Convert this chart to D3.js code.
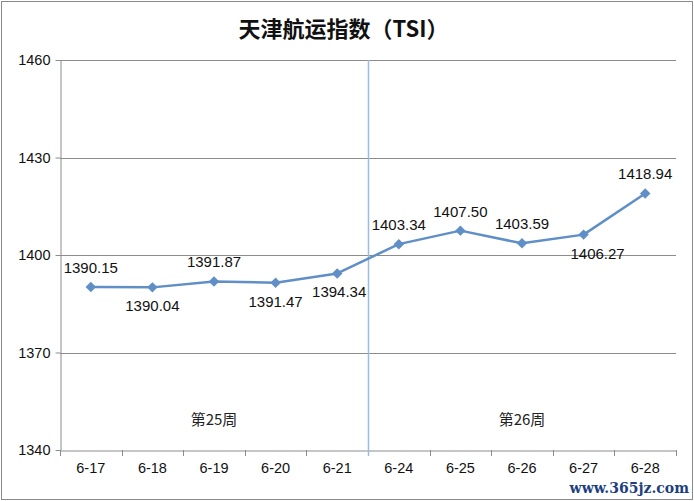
<!DOCTYPE html>
<html>
<head>
<meta charset="utf-8">
<script src="https://cdn.jsdelivr.net/npm/d3@7"></script>
<style>
html,body{margin:0;padding:0;background:#fff;}
svg{display:block;}
</style>
</head>
<body>
<svg id="chart" width="694" height="501"></svg>
<script>
const categories = ["6-17","6-18","6-19","6-20","6-21","6-24","6-25","6-26","6-27","6-28"];
const values = [1390.15,1390.04,1391.87,1391.47,1394.34,1403.34,1407.50,1403.59,1406.27,1418.94];
const labelSide = ["above","below","above","below","below","above","above","above","below","above"];
const yTicks = [1340,1370,1400,1430,1460];
const weekLabels = [{text:"第25周", from:0, to:4},{text:"第26周", from:5, to:9}];
const title = "天津航运指数（TSI）";

const svg = d3.select("#chart");
const W = 694, H = 501;
const m = {left:60, right:18, top:60, bottom:51};
const x = d3.scaleBand().domain(categories).range([m.left, W - m.right]);
const y = d3.scaleLinear().domain([1340,1460]).range([H - m.bottom, m.top]);

// outer border
svg.append("rect").attr("x",1.5).attr("y",1.5).attr("width",W-3).attr("height",H-3)
  .attr("fill","#fff").attr("stroke","#8a8a8a").attr("stroke-width",1);

// title
svg.append("text").attr("x",343.5).attr("y",37).attr("text-anchor","middle")
  .attr("font-family","'Noto Sans CJK SC', sans-serif").attr("font-size",22)
  .attr("font-weight","bold").attr("fill","#111").text(title);

// gridlines
svg.append("g").selectAll("line").data(yTicks.slice(1)).join("line")
  .attr("x1",m.left).attr("x2",W-m.right)
  .attr("y1",d=>Math.round(y(d))+0.5).attr("y2",d=>Math.round(y(d))+0.5)
  .attr("stroke","#8c8c8c").attr("stroke-width",1);

// y axis
const yAxis = svg.append("g").attr("transform",`translate(${m.left+0.5},0)`)
  .call(d3.axisLeft(y).tickValues(yTicks).tickFormat(d3.format("d")).tickSize(5).tickSizeOuter(0).tickPadding(5));
yAxis.select(".domain").attr("stroke","#8c8c8c");
yAxis.selectAll(".tick line").attr("stroke","#8c8c8c");
yAxis.selectAll(".tick text").attr("font-family","'Liberation Sans', Arial, sans-serif")
  .attr("font-size",14.5).attr("fill","#111");

// x axis
const xAxis = svg.append("g").attr("transform",`translate(0,${Math.round(H-m.bottom)+0.5})`)
  .call(d3.axisBottom(x).tickSize(0).tickPadding(12));
xAxis.select(".domain").attr("stroke","#8c8c8c");
xAxis.selectAll(".tick text").attr("font-family","'Liberation Sans', Arial, sans-serif")
  .attr("font-size",14.5).attr("fill","#111");
// tick marks at band boundaries
const bounds = categories.map(c=>x(c)).concat([x(categories[categories.length-1])+x.bandwidth()]);
svg.append("g").selectAll("line").data(bounds).join("line")
  .attr("x1",d=>Math.round(d)+0.5).attr("x2",d=>Math.round(d)+0.5)
  .attr("y1",Math.round(H-m.bottom)).attr("y2",Math.round(H-m.bottom)+6)
  .attr("stroke","#8c8c8c");

// week divider
const divX = Math.round(x(categories[5])) + 0.5;
svg.append("line").attr("x1",divX).attr("x2",divX).attr("y1",m.top).attr("y2",H-m.bottom+6)
  .attr("stroke","#9dbcdb").attr("stroke-width",1.5);

// week labels
svg.append("g").selectAll("text").data(weekLabels).join("text")
  .attr("x",d=>(x(categories[d.from]) + x(categories[d.to]) + x.bandwidth())/2)
  .attr("y",425).attr("text-anchor","middle")
  .attr("font-family","'Noto Sans CJK SC', sans-serif").attr("font-size",15)
  .attr("fill","#222").text(d=>d.text);

// line
const cx = d=>x(d)+x.bandwidth()/2;
svg.append("path").datum(values)
  .attr("d", d3.line().x((d,i)=>cx(categories[i])).y(d=>y(d)))
  .attr("fill","none").attr("stroke","#5f8fc6").attr("stroke-width",2.5).attr("stroke-linejoin","round");

// markers
svg.append("g").selectAll("path").data(values).join("path")
  .attr("transform",(d,i)=>`translate(${cx(categories[i])},${y(d)})`)
  .attr("d", d3.symbol().type(d3.symbolDiamond2).size(70))
  .attr("fill","#5f8fc6");

// data labels
svg.append("g").selectAll("text").data(values).join("text")
  .attr("x",(d,i)=>cx(categories[i]) + (i===8 ? 14 : (i===4 ? 2 : 0)))
  .attr("y",(d,i)=>y(d) + (labelSide[i]==="above" ? -14 : 24))
  .attr("text-anchor","middle")
  .attr("font-family","'Liberation Sans', Arial, sans-serif").attr("font-size",15)
  .attr("fill","#111").text(d=>d.toFixed(2));

// watermark
svg.append("text").attr("x",689).attr("y",493).attr("text-anchor","end")
  .attr("font-family","'DejaVu Serif', 'Liberation Serif', serif").attr("font-size",14)
  .attr("font-weight","bold").attr("fill","#1d3f7f").text("www.365jz.com");
</script>
</body>
</html>
